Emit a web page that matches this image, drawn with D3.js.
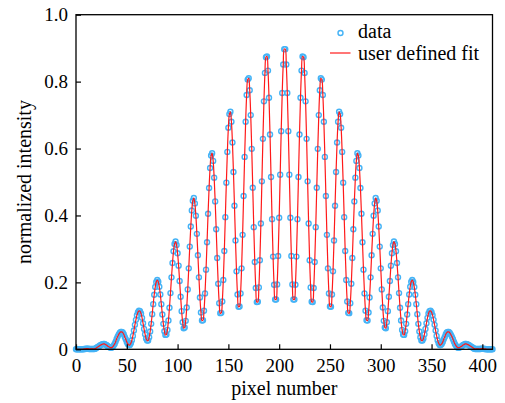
<!DOCTYPE html>
<html>
<head>
<meta charset="utf-8">
<script src="https://cdn.jsdelivr.net/npm/d3@7"></script>
<style>
  body { margin: 0; background: #fff; }
</style>
</head>
<body>
<script>
// normalized intensity, one value per pixel (pixel number = index, 0..410)
const intensity = [
  0,0,0,0,0,0,0,0,0.001,0.001,
  0.002,0.002,0.002,0.001,0.001,0.001,0.001,0.001,0.001,0.002,
  0.004,0.006,0.008,0.010,0.012,0.014,0.015,0.016,0.016,0.014,
  0.013,0.010,0.008,0.006,0.005,0.005,0.007,0.011,0.016,0.023,
  0.031,0.038,0.044,0.049,0.052,0.052,0.050,0.045,0.037,0.030,
  0.022,0.016,0.013,0.013,0.018,0.027,0.040,0.056,0.073,0.088,
  0.102,0.111,0.115,0.114,0.107,0.094,0.078,0.061,0.045,0.032,
  0.026,0.026,0.036,0.053,0.076,0.105,0.135,0.163,0.186,0.201,
  0.207,0.202,0.187,0.164,0.135,0.104,0.076,0.054,0.043,0.044,
  0.058,0.086,0.124,0.168,0.215,0.258,0.293,0.315,0.322,0.312,
  0.287,0.250,0.204,0.157,0.114,0.081,0.063,0.065,0.085,0.125,
  0.179,0.242,0.307,0.367,0.415,0.444,0.452,0.436,0.399,0.345,
  0.281,0.215,0.155,0.110,0.086,0.087,0.115,0.167,0.238,0.320,
  0.405,0.482,0.542,0.579,0.586,0.563,0.513,0.442,0.359,0.273,
  0.196,0.138,0.108,0.109,0.143,0.207,0.294,0.395,0.498,0.590,
  0.662,0.703,0.710,0.680,0.618,0.530,0.429,0.325,0.233,0.164,
  0.127,0.128,0.167,0.242,0.342,0.458,0.575,0.680,0.760,0.806,
  0.810,0.774,0.700,0.599,0.483,0.365,0.261,0.183,0.141,0.142,
  0.185,0.266,0.376,0.502,0.629,0.741,0.826,0.873,0.875,0.833,
  0.752,0.642,0.515,0.389,0.277,0.193,0.149,0.149,0.194,0.279,
  0.393,0.522,0.652,0.766,0.851,0.897,
  0.897,0.851,0.766,0.652,0.522,0.393,0.279,0.194,0.149,0.149,
  0.193,0.277,0.389,0.515,0.642,0.752,0.833,0.875,0.873,0.826,
  0.741,0.629,0.502,0.376,0.266,0.185,0.142,0.141,0.183,0.261,
  0.365,0.483,0.599,0.700,0.774,0.810,0.806,0.760,0.680,0.575,
  0.458,0.342,0.242,0.167,0.128,0.127,0.164,0.233,0.325,0.429,
  0.530,0.618,0.680,0.710,0.703,0.662,0.590,0.498,0.395,0.294,
  0.207,0.143,0.109,0.108,0.138,0.196,0.273,0.359,0.442,0.513,
  0.563,0.586,0.579,0.542,0.482,0.405,0.320,0.238,0.167,0.115,
  0.087,0.086,0.110,0.155,0.215,0.281,0.345,0.399,0.436,0.452,
  0.444,0.415,0.367,0.307,0.242,0.179,0.125,0.085,0.065,0.063,
  0.081,0.114,0.157,0.204,0.250,0.287,0.312,0.322,0.315,0.293,
  0.258,0.215,0.168,0.124,0.086,0.058,0.044,0.043,0.054,0.076,
  0.104,0.135,0.164,0.187,0.202,0.207,0.201,0.186,0.163,0.135,
  0.105,0.076,0.053,0.036,0.026,0.026,0.032,0.045,0.061,0.078,
  0.094,0.107,0.114,0.115,0.111,0.102,0.088,0.073,0.056,0.040,
  0.027,0.018,0.013,0.013,0.016,0.022,0.030,0.037,0.045,0.050,
  0.052,0.052,0.049,0.044,0.038,0.031,0.023,0.016,0.011,0.007,
  0.005,0.005,0.006,0.008,0.010,0.013,0.014,0.016,0.016,0.015,
  0.014,0.012,0.010,0.008,0.006,0.004,0.002,0.001,0.001,0.001,
  0.001,0.001,0.001,0.002,0.002,0.002,0.001,0.001,0,0,
  0,0,0,0,0
];
// the fit passes through every data point, so it is drawn from the same values
const fitValues = intensity;

const xTicks = [0, 50, 100, 150, 200, 250, 300, 350, 400];
const yTicks = [0, 0.2, 0.4, 0.6, 0.8, 1.0];
const legendLabels = ["data", "user defined fit"];

const serif = '"Liberation Serif", "Noto Serif", "DejaVu Serif", "Times New Roman", Times, serif';

init();

function init() {
  let width = 505,
      height = 403,
      margin = {l: 76, r: 12.5, t: 14.7, b: 53.7},
      w = width - margin.l - margin.r,
      h = height - margin.t - margin.b;

  let svg = d3.select("body")
              .append("svg")
              .attr("width", width)
              .attr("height", height)
              .attr("font-family", serif);

  let g = svg.append("g")
             .attr("transform", "translate(" + margin.l + "," + margin.t + ")");

  let x = d3.scaleLinear().domain([0, 410]).range([0, w]);
  let y = d3.scaleLinear().domain([0, 1]).range([h, 0]);

  let points = intensity.map((v, i) => ({px: i, v: v}));
  let fit = fitValues.map((v, i) => ({px: i, v: v}));

  // data circles
  g.append("g")
   .selectAll("circle")
   .data(points)
   .join("circle")
   .attr("cx", d => x(d.px))
   .attr("cy", d => y(d.v))
   .attr("r", 2.5)
   .style("fill", "none")
   .style("stroke", "#45b3f6")
   .style("stroke-width", 1.4);

  // fit line on top
  let line = d3.line()
               .x(d => x(d.px))
               .y(d => y(d.v))
               .curve(d3.curveCatmullRom);

  g.append("path")
   .datum(fit)
   .attr("d", line)
   .style("fill", "none")
   .style("stroke", "#ff1a1a")
   .style("stroke-width", 1.2);

  // axes, ticks pointing in
  let xAxis = g.append("g")
               .attr("transform", "translate(0," + h + ")")
               .call(d3.axisBottom(x).tickValues(xTicks).tickSizeInner(-5).tickSizeOuter(0).tickFormat(d3.format("d")));
  xAxis.attr("font-family", serif);
  xAxis.select(".domain").remove();
  xAxis.selectAll("text")
       .attr("y", 23)
       .attr("dy", null)
       .style("font-size", "19px");

  let yAxis = g.append("g")
               .call(d3.axisLeft(y).tickValues(yTicks).tickSizeInner(-5).tickSizeOuter(0)
                       .tickFormat(d => d === 0 ? "0" : d3.format(".1f")(d)));
  yAxis.attr("font-family", serif);
  yAxis.select(".domain").remove();
  yAxis.selectAll("text")
       .attr("x", -8)
       .style("font-size", "19px");

  g.selectAll(".tick line").style("stroke", "#000").style("stroke-width", 1.2);

  // frame
  g.append("rect")
   .attr("width", w)
   .attr("height", h)
   .style("fill", "none")
   .style("stroke", "#000")
   .style("stroke-width", 1.3);

  // axis titles
  svg.append("text")
     .attr("x", margin.l + w / 2)
     .attr("y", 395)
     .style("text-anchor", "middle")
     .style("font-size", "20px")
     .text("pixel number");

  svg.append("text")
     .attr("transform", "translate(31," + (margin.t + h / 2) + ") rotate(-90)")
     .style("text-anchor", "middle")
     .style("font-size", "20px")
     .text("normalized intensity");

  // legend
  let legend = svg.append("g");
  legend.append("circle")
        .attr("cx", 340.5)
        .attr("cy", 33)
        .attr("r", 2.5)
        .style("fill", "none")
        .style("stroke", "#45b3f6")
        .style("stroke-width", 1.4);
  legend.append("line")
        .attr("x1", 330).attr("x2", 350.5)
        .attr("y1", 53).attr("y2", 53)
        .style("stroke", "#ff1a1a")
        .style("stroke-width", 1.2);
  legend.selectAll("text")
        .data(legendLabels)
        .join("text")
        .attr("x", 358)
        .attr("y", (d, i) => 38 + i * 21.5)
        .style("font-size", "20px")
        .text(d => d);
}
</script>
</body>
</html>
